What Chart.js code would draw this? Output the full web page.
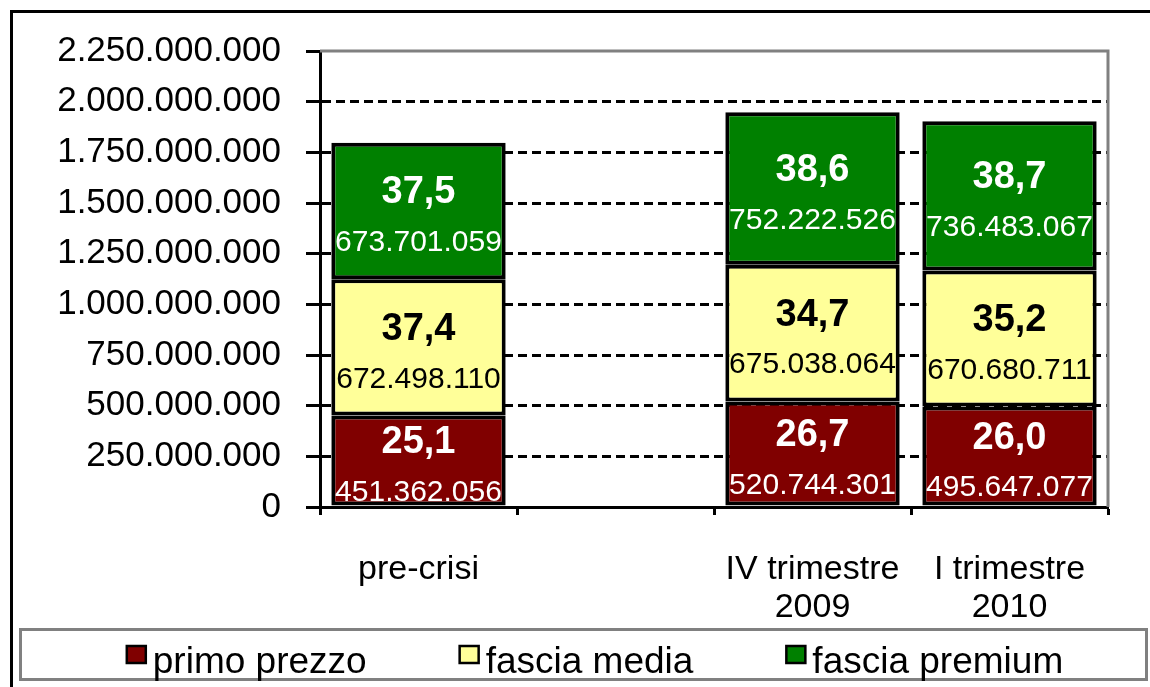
<!DOCTYPE html>
<html>
<head>
<meta charset="utf-8">
<script src="https://cdn.jsdelivr.net/npm/chart.js@4/dist/chart.umd.min.js"></script>
<style>
  html, body { margin: 0; padding: 0; background: #ffffff; }
  #c { display: block; }
</style>
</head>
<body>
<canvas id="c" width="1150" height="687"></canvas>
<script>
// ---- data ----
const categories = [['pre-crisi'], [''], ['IV trimestre', '2009'], ['I trimestre', '2010']];
const seriesNames = ['primo prezzo', 'fascia media', 'fascia premium'];
const primoPrezzo   = [451362056, null, 520744301, 495647077];
const fasciaMedia   = [672498110, null, 675038064, 670680711];
const fasciaPremium = [673701059, null, 752222526, 736483067];
const pctPrimo   = [25.1, null, 26.7, 26.0];
const pctMedia   = [37.4, null, 34.7, 35.2];
const pctPremium = [37.5, null, 38.6, 38.7];
const yTickValues = [0, 250000000, 500000000, 750000000, 1000000000, 1250000000, 1500000000, 1750000000, 2000000000, 2250000000];

const colors = ['#800000', '#FFFF99', '#008000'];
const labelColors = ['#ffffff', '#000000', '#ffffff'];
const FONT = '"Liberation Sans", Arial, sans-serif';

function fmtInt(v) {
  return String(Math.round(v)).replace(/\B(?=(\d{3})+(?!\d))/g, '.');
}
function fmtPct(v) {
  return v.toFixed(1).replace('.', ',');
}

const pctSeries = [pctPrimo, pctMedia, pctPremium];

const segmentLabels = {
  id: 'segmentLabels',
  afterDatasetsDraw(chart) {
    const ctx = chart.ctx;
    ctx.save();
    ctx.textAlign = 'center';
    ctx.textBaseline = 'middle';
    chart.data.datasets.forEach((ds, di) => {
      const meta = chart.getDatasetMeta(di);
      meta.data.forEach((el, i) => {
        const v = ds.data[i];
        if (v == null) return;
        const cx = el.x;
        const cy = (el.y + el.base) / 2;
        ctx.fillStyle = labelColors[di];
        ctx.font = 'bold 38px ' + FONT;
        ctx.fillText(fmtPct(pctSeries[di][i]), cx, cy - 18);
        ctx.font = '30px ' + FONT;
        ctx.fillText(fmtInt(v), cx, cy + 32);
      });
    });
    ctx.restore();
  }
};

const decorations = {
  id: 'decorations',
  afterDraw(chart) {
    const ctx = chart.ctx;
    const a = chart.chartArea;
    ctx.save();
    // plot area border (gray, top and right)
    ctx.strokeStyle = '#808080';
    ctx.lineWidth = 3;
    ctx.beginPath();
    ctx.moveTo(a.left, a.top);
    ctx.lineTo(a.right, a.top);
    ctx.lineTo(a.right, a.bottom);
    ctx.stroke();
    // outer frame
    ctx.strokeStyle = '#000000';
    ctx.lineWidth = 3;
    ctx.beginPath();
    ctx.moveTo(11.5, 690);
    ctx.lineTo(11.5, 11.5);
    ctx.lineTo(1155, 11.5);
    ctx.stroke();
    // legend box
    ctx.strokeStyle = '#808080';
    ctx.lineWidth = 3;
    ctx.strokeRect(20.5, 629.5, 1126, 50);
    // legend items
    ctx.font = '37px ' + FONT;
    ctx.textBaseline = 'alphabetic';
    ctx.textAlign = 'left';
    const box = 19, gapText = 7, gapItem = 93;
    const widths = chart.data.datasets.map(ds => box + gapText + ctx.measureText(ds.label).width);
    const total = widths.reduce((s, w) => s + w, 0) + gapItem * (widths.length - 1);
    let x = 595 - total / 2;
    chart.data.datasets.forEach((ds, i) => {
      ctx.fillStyle = ds.backgroundColor;
      ctx.fillRect(x, 646, box, 17);
      ctx.strokeStyle = '#000000';
      ctx.lineWidth = 2.5;
      ctx.strokeRect(x, 646, box, 17);
      ctx.fillStyle = '#000000';
      ctx.fillText(ds.label, x + box + gapText, 673);
      x += widths[i] + gapItem;
    });
    ctx.restore();
  }
};

new Chart(document.getElementById('c'), {
  type: 'bar',
  data: {
    labels: categories,
    datasets: [
      { label: seriesNames[0], data: primoPrezzo,   backgroundColor: colors[0] },
      { label: seriesNames[1], data: fasciaMedia,   backgroundColor: colors[1] },
      { label: seriesNames[2], data: fasciaPremium, backgroundColor: colors[2] }
    ].map(d => Object.assign(d, {
      borderColor: '#000000',
      borderWidth: 4,
      borderSkipped: false,
      inflateAmount: 0,
      categoryPercentage: 1.0,
      barPercentage: 0.885
    }))
  },
  options: {
    responsive: false,
    animation: false,
    devicePixelRatio: 1,
    layout: { padding: { left: 0, right: 42, top: 51, bottom: 60 } },
    plugins: {
      legend: { display: false },
      tooltip: { enabled: false }
    },
    scales: {
      x: {
        stacked: true,
        offset: true,
        grid: {
          display: true,
          drawOnChartArea: false,
          drawTicks: true,
          tickLength: 8,
          tickColor: '#000000',
          tickWidth: 3,
          offset: true
        },
        border: { display: true, color: '#000000', width: 3 },
        ticks: {
          color: '#000000',
          font: { family: FONT, size: 34, lineHeight: 1.12 },
          padding: 36,
          maxRotation: 0,
          autoSkip: false
        },
        afterFit(scale) { scale.height = 120; }
      },
      y: {
        stacked: true,
        min: 0,
        max: 2250000000,
        afterBuildTicks(scale) { scale.ticks = yTickValues.map(v => ({ value: v })); },
        grid: {
          color: (c) => (c.tick && c.tick.value === 2250000000) ? 'rgba(0,0,0,0)' : '#000000',
          lineWidth: 3,
          drawTicks: true,
          tickLength: 14,
          tickColor: '#000000',
          tickWidth: 3
        },
        border: { display: true, color: '#000000', width: 3, dash: [9, 5] },
        ticks: {
          color: '#000000',
          font: { family: FONT, size: 35 },
          padding: 25,
          callback: (v) => fmtInt(v)
        },
        afterFit(scale) { scale.width = 320; }
      }
    }
  },
  plugins: [segmentLabels, decorations]
});
</script>
</body>
</html>
